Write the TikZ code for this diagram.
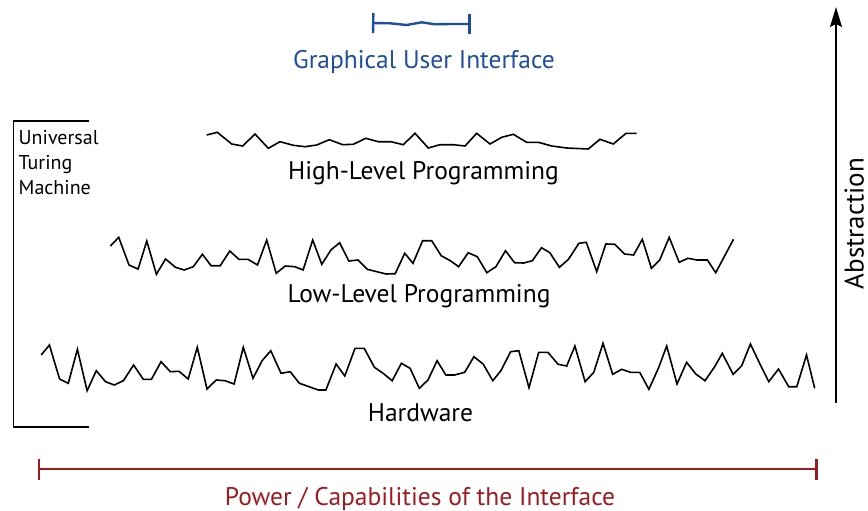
\documentclass[tikz,border=0pt]{standalone}
\usepackage{fontspec}
\setmainfont{PT Sans}
\usetikzlibrary{arrows.meta}

\definecolor{guiblue}{RGB}{31,78,158}
\definecolor{powerred}{RGB}{158,27,32}

\tikzset{
    wave/.style={line width=1.6pt, line join=miter},
    lbl/.style={font=\fontsize{25.5}{30}\selectfont, anchor=base, inner sep=0pt},
    smalllbl/.style={font=\fontsize{20}{25}\selectfont, inner sep=0pt},
}

\begin{document}
\begin{tikzpicture}[x=1pt,y=-1pt]
    \useasboundingbox (0,0) rectangle (868,511);

    % GUI interval
    \coordinate (guil) at (372,23);
    \coordinate (guir) at (470.5,24);
    \draw[guiblue, line width=2.4pt, {Bar[width=20pt]}-{Bar[width=20pt]}]
        (guil) -- (390,23.3) -- (406.7,25) -- (421.7,22.3) -- (435,24.3) -- (450,24) -- (guir);
    \node[lbl, text=guiblue] (gui) at (424,68.5) {Graphical User Interface};

    % abstraction levels
    \draw[wave] plot coordinates {(206.7,135) (217.3,132.3) (231.7,144) (242.7,146) (255,134)
        (268.3,148.3) (280,141.7) (293.3,145.3) (305,146.7) (316.7,145) (329.3,139.7)
        (342.7,144.7) (353.3,144.3) (365.7,138.3) (378.3,141.7) (390.7,141.7) (403.3,144.7)
        (415,133.3) (428.3,148) (440,144.7) (453.3,144.7) (465,146) (476.7,133.3) (490,144)
        (501.7,137.3) (513.3,134.3) (526.7,142.3) (538.3,142.3) (551.7,146) (566.7,148)
        (588.3,149) (600,139.3) (613.3,144) (626,133.3) (636.7,133.3)};
    \node[lbl] (high) at (423.5,179.5) {High-Level Programming};

    \draw[wave] plot coordinates {(110.4,246) (118.7,237.3) (129,265) (138.1,269) (146.8,241)
        (156.4,274.3) (165.5,259) (175.5,267.3) (184.2,270) (193.3,266.7) (202.4,254.3)
        (211.1,265.7) (220.2,265.7) (229.8,251) (238.9,259.3) (248,259.3) (257.5,265)
        (266.7,240) (276.2,273.3) (285.3,266) (294.9,266.7) (303.1,270) (312.7,240)
        (321.8,264.3) (330.9,250) (339.6,242.7) (348.8,261) (357.9,260) (367.4,269.3)
        (377,271.7) (386.1,274) (395.2,273.7) (404.7,253.3) (413,263.3) (422.6,240.7)
        (431.7,240.7) (441.2,255.7) (450.3,260.7) (458.6,266.7) (468.2,252.7) (477.3,256.7)
        (486.8,272.7) (495.9,266.7) (505.5,250.7) (514.6,262.7) (523.7,263) (532.4,260.7)
        (541.5,247.7) (549.8,252.7) (559.4,267.3) (568.5,259.3) (578.9,243.3) (586.3,242.3)
        (596.7,271.7) (605.8,244) (614.9,244.3) (624.5,254) (633.6,255) (642.3,239.3)
        (651.4,268.3) (659.7,260) (669.2,237.3) (679.2,262.3) (687.9,258.3) (697,260)
        (707.4,260) (715.7,272.7) (733.5,239.3)};
    \node[lbl] (low) at (419,302) {Low-Level Programming};

    \draw[wave] plot coordinates {(41.2,355) (49.4,345) (59.6,379) (68.3,383.3) (77.4,349.3)
        (87.1,390.7) (96.3,370.7) (105.5,381.7) (114.2,385) (123.4,380.7) (133.6,365)
        (143.3,379.3) (151.4,379.3) (161.1,361.7) (170.3,371.7) (179,371.3) (188.2,379)
        (197.3,347.3) (207,389) (216.2,380) (224.9,380.7) (234.1,384) (243.3,347.3)
        (253,378.3) (262.1,360.7) (270.8,350.7) (281,373.3) (290.2,371.7) (299.4,383.3)
        (309.1,386.7) (318.3,390) (325.9,390) (336.1,364) (344.8,376) (355,348.3)
        (364.2,348.3) (374.4,367.3) (383.1,373.3) (392.2,380.7) (401.4,363.3) (410.1,368.3)
        (419.3,388.3) (428,380) (437.1,360.7) (445.8,375) (454.5,375) (464.7,372.3)
        (473.9,356.7) (483.1,364) (492.8,380.7) (500.9,370.7) (510.6,351.7) (518.8,350.7)
        (529,387.7) (538.7,352.3) (547.9,352.3) (558.1,364.3) (566.7,366) (574.9,346)
        (585.1,381.7) (593.8,372.3) (603,343.3) (612.7,374.3) (621.8,369.3) (630.5,372.3)
        (639.7,372.3) (648.9,389.3) (658.6,367.7) (666.7,346) (677,384) (686.6,362.3)
        (695.8,374) (705,380.7) (714.7,366.7) (722.3,353.3) (733.1,374.3) (741.7,365.7)
        (750.4,344) (759.6,363.3) (768.8,381.7) (778.5,369) (788.7,386.7) (796.8,386.7)
        (806.5,355) (814.7,388.3)};
    \node[lbl] (hw) at (420.5,421.7) {Hardware};

    % universal turing machine bracket
    \draw[line width=1.6pt] (89,121) -- (13.3,121) -- (13.3,427) -- (89,427);
    \node[smalllbl, align=left, anchor=north west] (utm) at (18.5,130) {Universal\\Turing\\Machine};

    % abstraction axis
    \coordinate (abot) at (836,403);
    \coordinate (atop) at (836,7);
    \draw[line width=1.6pt, -{Stealth[length=20pt, width=12pt, inset=3pt]}] (abot) -- (atop);
    \node[lbl, font=\fontsize{27}{31}\selectfont, rotate=90] (abs) at (863.5,223.5) {Abstraction};

    % power axis
    \coordinate (pl) at (37.5,469);
    \coordinate (pr) at (818,469);
    \draw[powerred, line width=2.8pt, {Bar[width=21pt]}-{Bar[width=21pt]}] (pl) -- (pr);
    \node[lbl, text=powerred] (power) at (420,505) {Power / Capabilities of the Interface};
\end{tikzpicture}
\end{document}
